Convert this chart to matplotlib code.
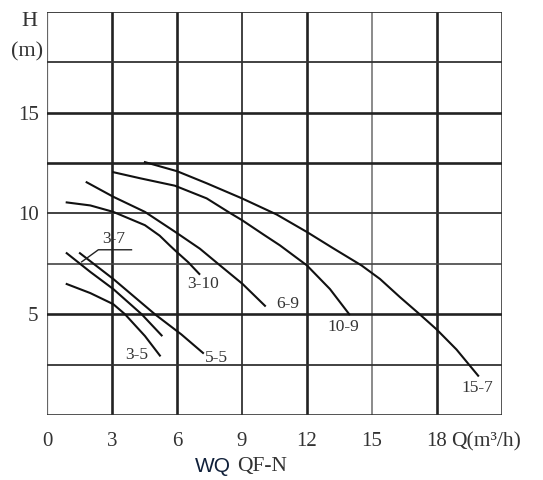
import matplotlib.pyplot as plt

plt.rcParams['font.family'] = ['Liberation Serif', 'DejaVu Serif']

# pump curves: flow Q (m3/h) and head H (m)
q_15_7 = [4.52, 6.0, 7.37, 9.0, 10.6, 12.0, 13.2, 14.52, 15.37, 16.29, 17.2, 17.98, 18.9, 19.9]
h_15_7 = [12.55, 12.1, 11.5, 10.75, 9.95, 9.08, 8.28, 7.42, 6.75, 5.85, 5.0, 4.25, 3.25, 1.95]

q_10_9 = [3.06, 4.29, 5.9, 7.37, 8.44, 9.0, 10.0, 10.75, 12.0, 13.06, 13.95]
h_10_9 = [12.05, 11.75, 11.38, 10.75, 10.03, 9.67, 8.95, 8.42, 7.42, 6.25, 5.0]

q_6_9 = [1.83, 3.06, 4.52, 5.9, 7.06, 7.9, 9.03, 10.06]
h_6_9 = [11.55, 10.83, 10.08, 9.1, 8.25, 7.5, 6.5, 5.42]

q_3_10 = [0.91, 2.0, 3.06, 4.52, 5.2, 5.68, 6.0, 6.52, 7.03]
h_3_10 = [10.55, 10.4, 10.08, 9.42, 8.9, 8.4, 8.08, 7.58, 7.0]

q_3_7 = [0.91, 2.0, 3.06, 4.37, 5.29]
h_3_7 = [8.03, 7.1, 6.25, 5.0, 3.95]

q_5_5 = [1.52, 3.06, 4.98, 6.2, 7.2]
h_5_5 = [8.03, 6.75, 5.0, 4.0, 3.08]

q_3_5 = [0.91, 2.0, 3.06, 3.6, 4.52, 5.21]
h_3_5 = [6.5, 6.05, 5.5, 5.0, 3.92, 2.95]

curves = [
    (q_15_7, h_15_7, '15-7', 19.85, 1.35),
    (q_10_9, h_10_9, '10-9', 13.66, 4.35),
    (q_6_9, h_6_9, '6-9', 11.1, 5.5),
    (q_3_10, h_3_10, '3-10', 7.2, 6.5),
    (q_3_7, h_3_7, None, 0, 0),
    (q_5_5, h_5_5, '5-5', 7.8, 2.85),
    (q_3_5, h_3_5, '3-5', 4.15, 3.0),
]

x_ticks = [0, 3, 6, 9, 12, 15, 18]
y_ticks = [5, 10, 15]

# grid lines and their weights, as seen in the chart
v_lines = [(0, 1.6, '#666666'), (3, 1.9, '#222222'), (6, 1.9, '#222222'),
           (9, 1.3, '#333333'), (12, 1.9, '#222222'), (15, 1.2, '#777777'),
           (18, 1.9, '#222222'), (21, 1.4, '#555555')]
h_lines = [(0, 1.9, '#333333'), (2.5, 1.3, '#333333'), (5, 1.9, '#222222'),
           (7.5, 1.2, '#444444'), (10, 1.3, '#333333'), (12.5, 1.9, '#222222'),
           (15, 1.9, '#222222'), (17.5, 1.3, '#333333'), (20, 1.3, '#333333')]

TXT = '#333333'

fig = plt.figure(figsize=(5.43, 4.8), dpi=100)
ax = fig.add_axes([47 / 543, 1 - 415 / 480, 455 / 543, 403 / 480])
ax.set_xlim(0, 21)
ax.set_ylim(0, 20)
for s in ax.spines.values():
    s.set_visible(False)

for x, lw, c in v_lines:
    ax.axvline(x, color=c, lw=lw, zorder=1)
for y, lw, c in h_lines:
    ax.axhline(y, color=c, lw=lw, zorder=1)

for q, h, name, tx, ty in curves:
    ax.plot(q, h, color='#111111', lw=1.5, zorder=3, solid_joinstyle='round')
    if name:
        ax.text(tx, ty, name, fontsize=12.5, ha='center', va='center', color=TXT)

# 3-7 label with leader
ax.plot([1.6, 2.37, 3.9], [7.6, 8.2, 8.2], color='#222222', lw=1.0, zorder=3)
ax.text(3.1, 8.75, '3-7', fontsize=12.5, ha='center', va='center', color=TXT)

ax.set_xticks(x_ticks)
ax.set_xticklabels([str(v) for v in x_ticks])
ax.set_yticks(y_ticks)
ax.set_yticklabels([str(v) for v in y_ticks])
ax.tick_params(length=0, labelsize=15, colors=TXT)
ax.tick_params(axis='x', pad=12)
ax.tick_params(axis='y', pad=6)

ax.text(18.65, -0.85, 'Q(m³/h)', fontsize=15.5, ha='left', va='top', color=TXT)
fig.text(29 / 543, 1 - 22 / 480, 'H', fontsize=16, ha='center', va='center', color=TXT)
fig.text(27 / 543, 1 - 52 / 480, '(m)', fontsize=16, ha='center', va='center', color=TXT)
fig.text(231 / 543, 1 - 467 / 480, 'WQ', fontsize=15, ha='right', va='center',
         family='Liberation Sans', color='#10203a')
fig.text(237 / 543, 1 - 467 / 480, 'QF-N', fontsize=15.5, ha='left', va='center', color=TXT)

plt.savefig('out.png', dpi=100)
